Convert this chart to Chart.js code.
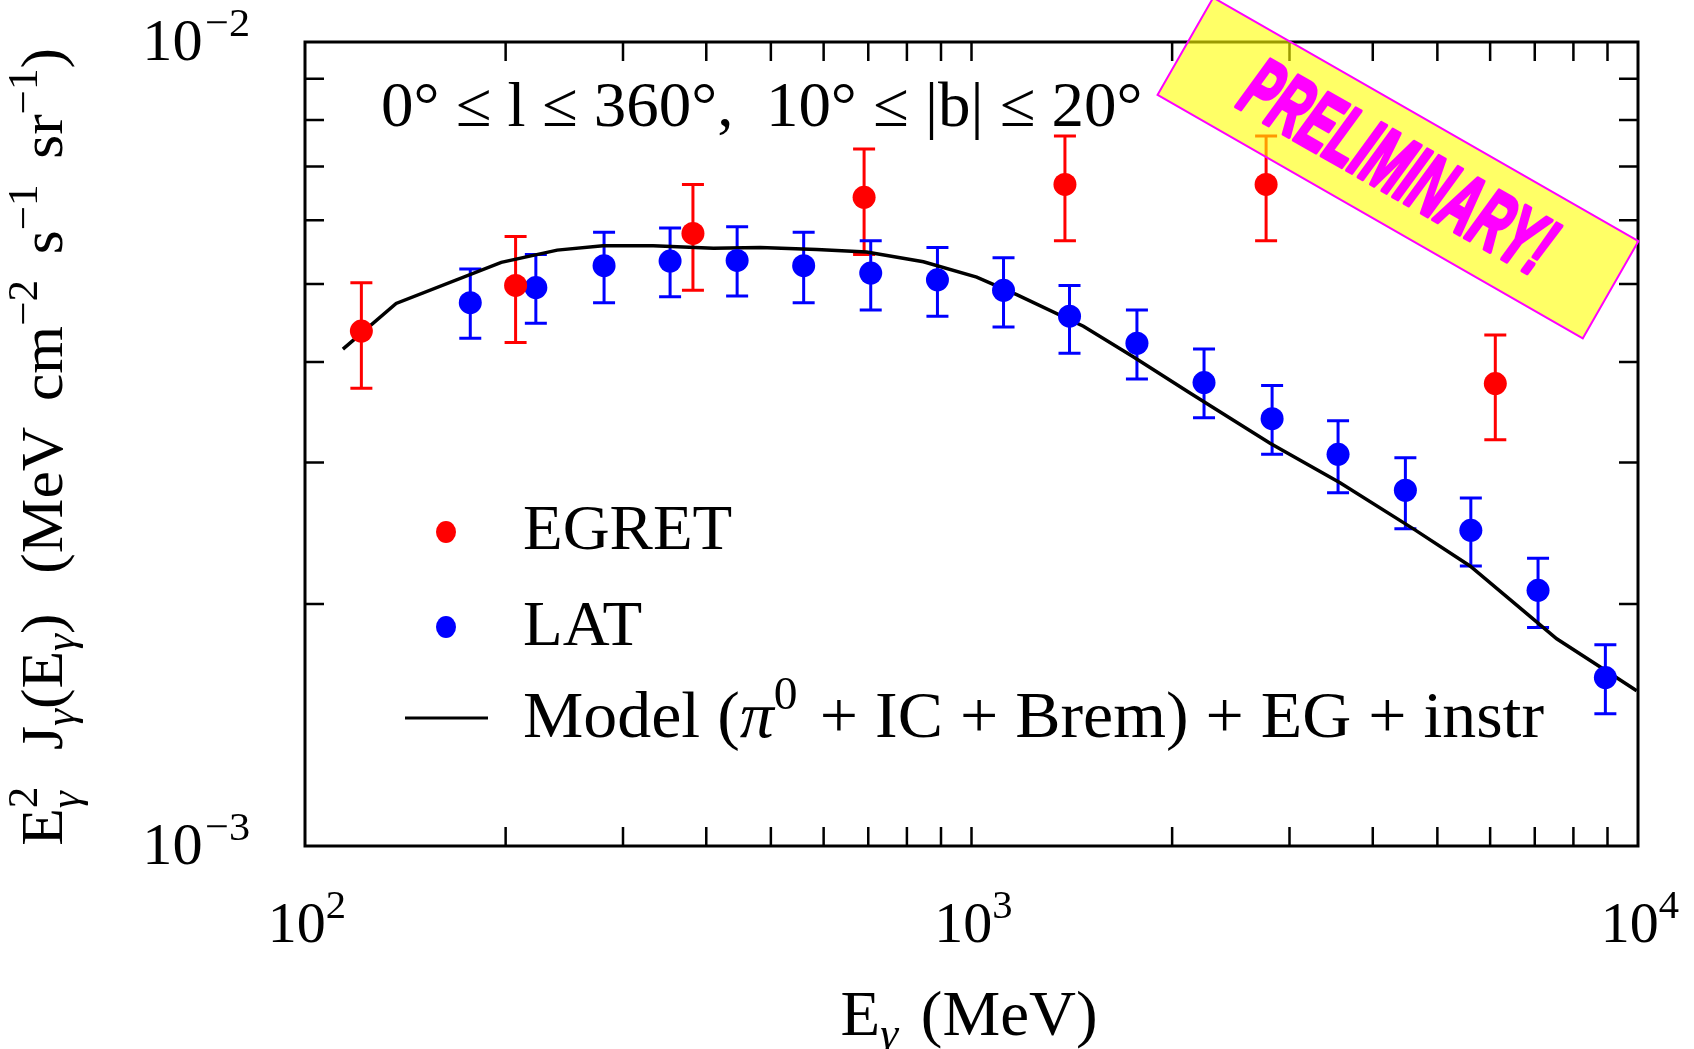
<!DOCTYPE html>
<html>
<head>
<meta charset="utf-8">
<script src="https://cdn.jsdelivr.net/npm/chart.js@4.4.1/dist/chart.umd.min.js"></script>
<style>
  html, body { margin: 0; padding: 0; background: #fff; }
  canvas { display: block; }
</style>
</head>
<body>
<canvas id="c" width="1694" height="1049"></canvas>
<script>
// EGRET points (MeV, flux) with error bar ends
const egretE = [121.5, 207, 382, 690, 1381, 2767, 6108];
const egretFlux = [4.37e-3, 4.98e-3, 5.78e-3, 6.41e-3, 6.65e-3, 6.65e-3, 3.76e-3];
const egretLo = [3.71e-3, 4.23e-3, 4.91e-3, 5.44e-3, 5.66e-3, 5.66e-3, 3.20e-3];
const egretHi = [5.02e-3, 5.73e-3, 6.65e-3, 7.36e-3, 7.64e-3, 7.64e-3, 4.32e-3];

// LAT points
const latE = [177, 222, 281, 353, 445, 560, 706, 889, 1117, 1403, 1771, 2233, 2825, 3548, 4477, 5613, 7080, 8934];
const latFlux = [4.74e-3, 4.95e-3, 5.27e-3, 5.34e-3, 5.35e-3, 5.27e-3, 5.16e-3, 5.06e-3, 4.91e-3, 4.56e-3, 4.22e-3, 3.77e-3, 3.40e-3, 3.07e-3, 2.77e-3, 2.47e-3, 2.08e-3, 1.62e-3];
const latLo = [4.28e-3, 4.47e-3, 4.74e-3, 4.82e-3, 4.83e-3, 4.74e-3, 4.64e-3, 4.56e-3, 4.42e-3, 4.10e-3, 3.81e-3, 3.41e-3, 3.07e-3, 2.75e-3, 2.48e-3, 2.23e-3, 1.87e-3, 1.46e-3];
const latHi = [5.22e-3, 5.44e-3, 5.80e-3, 5.87e-3, 5.89e-3, 5.80e-3, 5.66e-3, 5.55e-3, 5.39e-3, 4.98e-3, 4.64e-3, 4.15e-3, 3.74e-3, 3.38e-3, 3.04e-3, 2.71e-3, 2.28e-3, 1.78e-3];

// model curve
const modelE = [114, 137, 197, 239, 280, 333, 410, 482, 586, 696, 847, 1018, 1169, 1472, 1748, 2127, 2805, 3572, 4603, 5597, 6887, 7551, 8872, 9954];
const modelFlux = [4.15e-3, 4.73e-3, 5.32e-3, 5.51e-3, 5.58e-3, 5.58e-3, 5.54e-3, 5.55e-3, 5.52e-3, 5.48e-3, 5.33e-3, 5.10e-3, 4.85e-3, 4.43e-3, 4.06e-3, 3.66e-3, 3.17e-3, 2.83e-3, 2.48e-3, 2.23e-3, 1.93e-3, 1.81e-3, 1.66e-3, 1.56e-3];

// axes
const xMajor = [100, 1000, 10000];
const xMajorExp = ['2', '3', '4'];
const xMinor = [200, 300, 400, 500, 600, 700, 800, 900, 1000, 2000, 3000, 4000, 5000, 6000, 7000, 8000, 9000];
const yMajor = [1e-2, 1e-3];
const yMajorExp = ['\u22122', '\u22123'];
const yMinor = [2e-3, 3e-3, 4e-3, 5e-3, 6e-3, 7e-3, 8e-3, 9e-3];

const SERIF = '"Liberation Serif", "DejaVu Serif", serif';
const SX = 1.16; // the original TeX font is wider
const SY = 1.12;

function fnt(size, st) { return (st || '') + ' ' + size + 'px ' + SERIF; }

// rich text: k = 'n' normal, 'up' superscript, 'dn' subscript, 'ud' both stacked
function segW(ctx, s, size) {
  if (s.gap) return s.gap * size;
  if (s.k === 'ud') {
    ctx.font = fnt(size * 0.7);
    const a = ctx.measureText(s.t[0]).width;
    ctx.font = fnt(size * 0.7, 'italic');
    return Math.max(a, ctx.measureText(s.t[1]).width);
  }
  const sz = (s.k === 'up' || s.k === 'dn') ? size * 0.7 : size;
  ctx.font = fnt(sz, s.i);
  return ctx.measureText(s.t).width;
}
function drawRich(ctx, segs, x, y, size, align) {
  let w = 0;
  segs.forEach(s => { w += segW(ctx, s, size); });
  const x0 = align === 'center' ? x - w * SX / 2 : (align === 'right' ? x - w * SX : x);
  let cx = 0;
  ctx.save();
  ctx.translate(x0, y);
  ctx.scale(SX, SY);
  ctx.textAlign = 'left';
  ctx.textBaseline = 'alphabetic';
  for (const s of segs) {
    const sw = segW(ctx, s, size);
    if (!s.gap) {
      if (s.k === 'ud') {
        ctx.font = fnt(size * 0.7);
        ctx.fillText(s.t[0], cx, -size * 0.42);
        ctx.font = fnt(size * 0.7, 'italic');
        ctx.fillText(s.t[1], cx, size * 0.28);
      } else if (s.k === 'up') {
        ctx.font = fnt(size * 0.7, s.i);
        ctx.fillText(s.t, cx, -size * 0.42);
      } else if (s.k === 'dn') {
        ctx.font = fnt(size * 0.7, s.i);
        ctx.fillText(s.t, cx, size * 0.2);
      } else {
        ctx.font = fnt(size, s.i);
        ctx.fillText(s.t, cx, 0);
      }
    }
    cx += sw;
  }
  ctx.restore();
}

const deco = {
  id: 'deco',
  beforeDatasetsDraw(chart) {
    const { ctx, scales: { x, y } } = chart;
    ctx.save();
    ctx.lineWidth = 3;
    const sets = [[egretE, egretLo, egretHi, '#ff0000'], [latE, latLo, latHi, '#0000ff']];
    for (const [E, lo, hi, col] of sets) {
      ctx.strokeStyle = col;
      E.forEach((e, i) => {
        const px = x.getPixelForValue(e);
        const p1 = y.getPixelForValue(lo[i]);
        const p2 = y.getPixelForValue(hi[i]);
        ctx.beginPath();
        ctx.moveTo(px, p1); ctx.lineTo(px, p2);
        ctx.moveTo(px - 11, p1); ctx.lineTo(px + 11, p1);
        ctx.moveTo(px - 11, p2); ctx.lineTo(px + 11, p2);
        ctx.stroke();
      });
    }
    ctx.restore();
  },
  afterDatasetsDraw(chart) {
    const { ctx, chartArea: a, scales: { x, y } } = chart;
    ctx.save();
    ctx.fillStyle = '#000';
    ctx.strokeStyle = '#000';

    // frame + inward ticks
    ctx.lineWidth = 3;
    ctx.strokeRect(a.left, a.top, a.right - a.left, a.bottom - a.top);
    const tl = 19;
    ctx.lineWidth = 2.5;
    ctx.beginPath();
    xMinor.forEach(v => {
      const px = x.getPixelForValue(v);
      ctx.moveTo(px, a.bottom); ctx.lineTo(px, a.bottom - tl);
      ctx.moveTo(px, a.top); ctx.lineTo(px, a.top + tl);
    });
    yMinor.forEach(v => {
      const py = y.getPixelForValue(v);
      ctx.moveTo(a.left, py); ctx.lineTo(a.left + tl, py);
      ctx.moveTo(a.right, py); ctx.lineTo(a.right - tl, py);
    });
    ctx.stroke();

    // tick labels
    xMajor.forEach((v, i) => {
      drawRich(ctx, [{ t: '10' }, { t: xMajorExp[i], k: 'up' }], x.getPixelForValue(v) + 2, a.bottom + 96, 50, 'center');
    });
    yMajor.forEach((v, i) => {
      drawRich(ctx, [{ t: '10' }, { gap: 0.04 }, { t: yMajorExp[i], k: 'up' }], a.left - 55, y.getPixelForValue(v) + 18, 52, 'right');
    });

    // axis titles
    drawRich(ctx, [{ t: 'E' }, { t: '\u03b3', k: 'dn', i: 'italic' }, { gap: 0.35 }, { t: '(MeV)' }], 969, 1035, 56, 'center');
    ctx.save();
    ctx.translate(62, 447);
    ctx.rotate(-Math.PI / 2);
    drawRich(ctx, [
      { t: 'E' }, { t: ['2', '\u03b3'], k: 'ud' }, { gap: 0.6 },
      { t: 'J' }, { t: '\u03b3', k: 'dn', i: 'italic' }, { t: '(E' }, { t: '\u03b3', k: 'dn', i: 'italic' }, { t: ')' }, { gap: 0.65 },
      { t: '(MeV' }, { gap: 0.42 }, { t: 'cm' }, { t: '\u22122', k: 'up' }, { gap: 0.42 }, { t: 's' }, { t: '\u22121', k: 'up' }, { gap: 0.42 }, { t: 'sr' }, { t: '\u22121', k: 'up' }, { t: ')' }
    ], 0, 0, 53, 'center');
    ctx.restore();

    // region annotation
    drawRich(ctx, [{ t: '0\u00b0 \u2264 l \u2264 360\u00b0,  10\u00b0 \u2264 |b| \u2264 20\u00b0' }], 381, 126, 56, 'left');

    // legend
    const lx = 446;
    ctx.fillStyle = '#ff0000';
    ctx.beginPath(); ctx.ellipse(lx, 532, 10, 11, 0, 0, Math.PI * 2); ctx.fill();
    ctx.fillStyle = '#0000ff';
    ctx.beginPath(); ctx.ellipse(lx, 627, 10, 11, 0, 0, Math.PI * 2); ctx.fill();
    ctx.strokeStyle = '#000'; ctx.lineWidth = 3;
    ctx.beginPath(); ctx.moveTo(405, 718); ctx.lineTo(488, 718); ctx.stroke();
    ctx.fillStyle = '#000';
    drawRich(ctx, [{ t: 'EGRET' }], 523, 549, 56, 'left');
    drawRich(ctx, [{ t: 'LAT' }], 523, 645, 56, 'left');
    drawRich(ctx, [{ t: 'Model (' }, { t: '\u03c0', i: 'italic' }, { t: '0', k: 'up' }, { gap: 0.08 }, { t: ' + IC + Brem) + EG + instr' }], 523, 737, 58.5, 'left');
    ctx.restore();
  },
  afterDraw(chart) {
    const { ctx } = chart;
    ctx.save();
    ctx.translate(1398, 168);
    ctx.rotate(29.8 * Math.PI / 180);
    ctx.fillStyle = 'rgba(255,255,0,0.6)';
    ctx.fillRect(-245, -56, 490, 112);
    ctx.strokeStyle = '#ff00ff';
    ctx.lineWidth = 2;
    ctx.strokeRect(-245, -56, 490, 112);
    ctx.font = 'italic bold 84px "Liberation Sans", Arial, sans-serif';
    const w = ctx.measureText('PRELIMINARY!').width;
    ctx.scale(345 / w, 1);
    ctx.fillStyle = '#ff00ff';
    ctx.strokeStyle = '#ff00ff';
    ctx.lineWidth = 4;
    ctx.lineJoin = 'round';
    ctx.textAlign = 'center';
    ctx.textBaseline = 'middle';
    ctx.strokeText('PRELIMINARY!', 0, 4);
    ctx.fillText('PRELIMINARY!', 0, 4);
    ctx.restore();
  }
};

const toPts = (xs, ys) => xs.map((v, i) => ({ x: v, y: ys[i] }));

new Chart(document.getElementById('c'), {
  type: 'scatter',
  data: {
    datasets: [
      {
        label: 'Model (\u03c0\u2070 + IC + Brem) + EG + instr',
        data: toPts(modelE, modelFlux),
        showLine: true,
        borderColor: '#000',
        borderWidth: 3.5,
        pointRadius: 0,
        tension: 0,
        order: 3
      },
      {
        label: 'EGRET',
        data: toPts(egretE, egretFlux),
        backgroundColor: '#ff0000',
        borderWidth: 0,
        pointRadius: 11.5,
        order: 1
      },
      {
        label: 'LAT',
        data: toPts(latE, latFlux),
        backgroundColor: '#0000ff',
        borderWidth: 0,
        pointRadius: 11.5,
        order: 2
      }
    ]
  },
  options: {
    responsive: false,
    animation: false,
    layout: { padding: { left: 305, top: 42, right: 56, bottom: 203 } },
    plugins: { legend: { display: false }, tooltip: { enabled: false } },
    scales: {
      x: { type: 'logarithmic', min: 100, max: 10000, display: false },
      y: { type: 'logarithmic', min: 1e-3, max: 1e-2, display: false }
    }
  },
  plugins: [deco]
});
</script>
</body>
</html>
